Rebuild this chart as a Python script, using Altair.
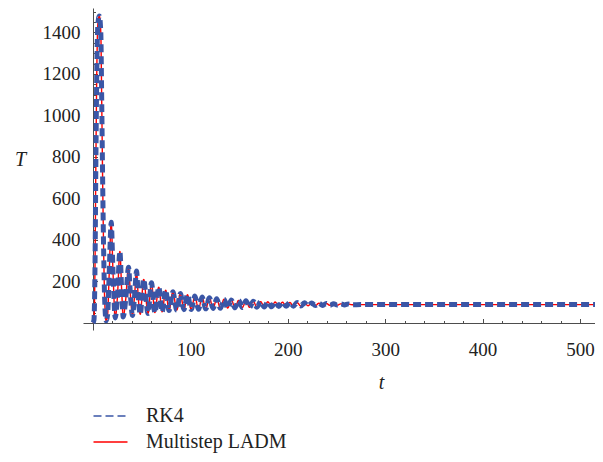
import altair as alt
import pandas as pd

# ---- data ----
t_vals = [0, 1, 2, 3, 4, 5, 6.5, 8, 9, 10, 11, 12, 13.5, 15, 16.5, 18.7, 20.5, 22.8,
          25, 27.6, 29.5, 31, 33.5, 36.5, 38.5, 40.5, 42.5, 44.7, 46.5, 48.5, 52, 56.5,
          60, 63.5, 67.5, 71, 74.6, 78, 82, 86, 89.7, 93.3, 97, 100.8, 104.6, 108.3,
          112, 115.8, 119.5, 123.3, 127, 130.8, 134.5, 138.3, 142, 145.8, 149.5, 153.3,
          157, 160.8, 164.5, 168.3, 172, 175.8, 179.5, 183.3, 187, 190.8, 194.5, 198.3,
          202, 205.8, 209.5, 213.3, 217, 220.8, 224.5, 228.3, 232, 235.8, 239.5, 243.3,
          247, 250.8, 254.5, 258.3, 262, 266, 275, 300, 400, 521]
T_vals = [0, 15, 250, 800, 1250, 1440, 1480, 1400, 1050, 650, 330, 110, 10, 40, 220, 485, 250, 24,
          120, 345, 150, 29, 110, 268, 130, 36, 120, 250, 120, 42, 210, 46,
          194, 50, 172, 54, 158, 60, 150, 62, 142, 64, 136, 65, 130, 66,
          125, 68, 121, 70, 117, 71, 114, 72, 111, 73, 109, 74,
          107, 75, 105, 76, 103, 77, 102, 78, 101, 79, 100, 80,
          99, 81, 98, 82, 97, 83, 96, 84, 95, 84.5, 94, 85,
          93, 86, 92, 87, 91, 87.5, 88.5, 88.5, 88.5, 88.5]

series_names = ["RK4", "Multistep LADM"]
series_colors = ["#3a56a6", "#ff0000"]
series_dashes = [[8, 4], [1, 0]]

x_major = [100, 200, 300, 400, 500]
x_minor = [20, 40, 60, 80, 120, 140, 160, 180, 220, 240, 260, 280, 320, 340, 360, 380,
           420, 440, 460, 480]
y_major = [200, 400, 600, 800, 1000, 1200, 1400]
y_minor = [50, 100, 150, 250, 300, 350, 450, 500, 550, 650, 700, 750, 850, 900, 950,
           1050, 1100, 1150, 1250, 1300, 1350, 1450, 1500]

rows = []
for s in series_names:
    for t, v in zip(t_vals, T_vals):
        rows.append({"t": t, "T": v, "series": s})
df = pd.DataFrame(rows)

FONT = "Liberation Serif"
AX_COL = "#4d4d4d"
x_scale = alt.Scale(domain=[-10.27, 515.4], nice=False, zero=False)
y_scale = alt.Scale(domain=[-34, 1518], nice=False, zero=False)

legend = alt.Legend(title=None, orient="none", legendX=17.5, legendY=398, padding=0,
                    symbolType="M-2,0H2", symbolSize=289, symbolStrokeWidth=1.5,
                    labelFont=FONT, labelFontSize=20, labelColor="#222222",
                    labelOffset=25.5, rowPadding=6)
color_enc = alt.Color("series:N", scale=alt.Scale(domain=series_names, range=series_colors),
                      legend=legend)
dash_enc = alt.StrokeDash("series:N", scale=alt.Scale(domain=series_names, range=series_dashes),
                          legend=legend)

# layer A: red line, axes carrying the labels and titles
red = alt.Chart(df).transform_filter(alt.datum.series == "Multistep LADM").mark_line(
    strokeWidth=1.4, interpolate="monotone", clip=True
).encode(
    x=alt.X("t:Q", scale=x_scale, axis=alt.Axis(
        orient="bottom", values=x_major, format="d", ticks=False, tickSize=0, domain=False,
        grid=False, labelPadding=10, labelFont=FONT, labelFontSize=19, labelColor="#222222",
        labelFlush=False, title="t", titleFont=FONT, titleFontSize=20,
        titleFontStyle="italic", titleFontWeight="normal", titleColor="#222222",
        titleX=298, titleY=52, titleBaseline="middle", titleAlign="center")),
    y=alt.Y("T:Q", scale=y_scale, axis=alt.Axis(
        orient="left", values=y_major, format="d", ticks=False, tickSize=0, domain=False,
        grid=False, labelPadding=3, labelFont=FONT, labelFontSize=19, labelColor="#222222",
        labelFlush=False, title="T", titleFont=FONT, titleFontSize=20,
        titleFontStyle="italic", titleFontWeight="normal", titleColor="#222222",
        titleAngle=0, titleX=-63, titleY=151, titleBaseline="middle", titleAlign="center")),
    color=color_enc,
    strokeDash=dash_enc,
)

# layer B: blue dashed line, axes carrying the axis lines and major ticks
blue = alt.Chart(df).transform_filter(alt.datum.series == "RK4").mark_line(
    strokeWidth=5, interpolate="monotone", strokeCap="butt", clip=True
).encode(
    x=alt.X("t:Q", scale=x_scale, axis=alt.Axis(
        orient="top", offset=-315, values=x_major, labels=False, ticks=True, tickSize=4.5,
        tickColor=AX_COL, tickWidth=1, domain=True, domainColor=AX_COL, domainWidth=1,
        grid=False, title=None)),
    y=alt.Y("T:Q", scale=y_scale, axis=alt.Axis(
        orient="right", offset=-502, values=y_major, labels=False, ticks=True, tickSize=4.5,
        tickColor=AX_COL, tickWidth=1, domain=True, domainColor=AX_COL, domainWidth=1,
        grid=False, title=None)),
    color=color_enc,
    strokeDash=dash_enc,
)

# layer C: invisible, carries the minor ticks
minor = alt.Chart(df).transform_filter(alt.datum.series == "RK4").mark_line(
    opacity=0, clip=True
).encode(
    x=alt.X("t:Q", scale=x_scale, axis=alt.Axis(
        orient="top", offset=-315, values=x_minor, labels=False, ticks=True, tickSize=2.5,
        tickColor=AX_COL, tickWidth=1, domain=False, grid=False, title=None)),
    y=alt.Y("T:Q", scale=y_scale, axis=alt.Axis(
        orient="right", offset=-502, values=y_minor, labels=False, ticks=True, tickSize=2.5,
        tickColor=AX_COL, tickWidth=1, domain=False, grid=False, title=None)),
)

chart = alt.layer(red, blue, minor).resolve_axis(
    x="independent", y="independent"
).properties(
    width=512, height=322,
    autosize=alt.AutoSizeParams(type="none"),
    padding={"left": 75, "top": 0, "right": 0, "bottom": 124},
).configure_view(stroke=None)

chart.save("out.html", embed_options={"renderer": "svg", "actions": False})
